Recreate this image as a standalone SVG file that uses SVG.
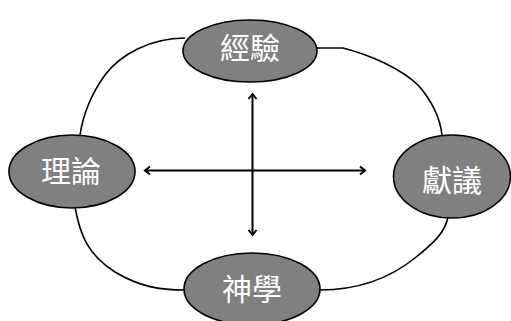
<svg xmlns="http://www.w3.org/2000/svg" width="511" height="321" viewBox="0 0 511 321">
<style>
.node ellipse{fill:#808080;stroke:#000;stroke-width:1.6}
.node text{fill:#fff;font-family:"Noto Sans CJK TC","Noto Sans CJK SC",sans-serif;font-size:30px;text-anchor:middle}
.conn path{fill:none;stroke:#000;stroke-width:1.6}
.arr line{stroke:#000;stroke-width:2}
</style>
<defs>
<marker id="ah" viewBox="-8 -6 10 12" markerWidth="10" markerHeight="12" refX="0" refY="0" orient="auto-start-reverse" markerUnits="userSpaceOnUse">
<path d="M-5,-4 L0,0 L-5,4" fill="none" stroke="#000" stroke-width="2"/>
</marker>
</defs>
<g id="connectors" class="conn">
<path d="M185,38 C150,38 120,55 105,75 C92,93 83,115 80,135"/>
<path d="M75,207 C80,235 88,255 115,272 C140,287 160,290 185,290"/>
<path d="M320,290 C360,290 390,278 415,258 C435,242 445,232 448,217"/>
<path d="M314,48 L343,48 C370,55 400,68 418,85 C433,102 440,118 442,135"/>
</g>
<g id="arrows" class="arr">
<line x1="252.5" y1="94" x2="252.5" y2="235" marker-start="url(#ah)" marker-end="url(#ah)"/>
<line x1="145" y1="170.5" x2="365" y2="170.5" marker-start="url(#ah)" marker-end="url(#ah)"/>
</g>
<g id="n-experience" class="node">
<ellipse cx="250" cy="51" rx="67" ry="31"/>
<text x="250" y="59">經驗</text>
</g>
<g id="n-theory" class="node">
<ellipse cx="72" cy="171.5" rx="63" ry="36.5"/>
<text x="71" y="182">理論</text>
</g>
<g id="n-offering" class="node">
<ellipse cx="452" cy="176.5" rx="58.5" ry="41.5"/>
<text x="452" y="191">獻議</text>
</g>
<g id="n-theology" class="node">
<ellipse cx="252" cy="289" rx="68" ry="36"/>
<text x="252" y="300">神學</text>
</g>
</svg>
